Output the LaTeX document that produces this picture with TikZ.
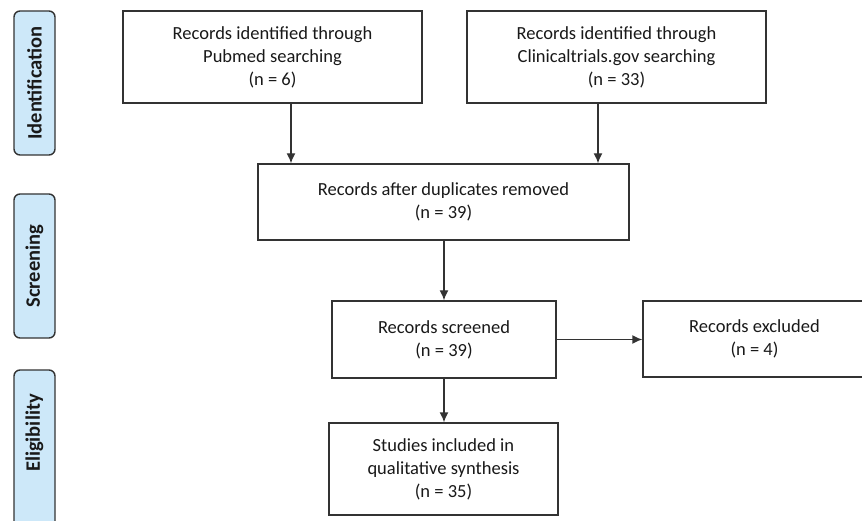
\documentclass[tikz,border=0pt]{standalone}
\usepackage{fontspec}
\setmainfont{Carlito}
\usetikzlibrary{arrows.meta}
\definecolor{stagefill}{HTML}{CDE8F9}
\definecolor{linecol}{HTML}{333333}
\tikzset{
  box/.style={draw=linecol, line width=1.4pt, fill=white, align=center, inner sep=0pt,
    font=\fontsize{18.5}{23}\selectfont, text=black!90},
  stage/.style={draw=linecol, line width=1.4pt, fill=stagefill, rounded corners=6pt,
    inner sep=0pt, minimum width=41pt},
  stagetext/.style={rotate=90, font=\fontsize{20.5}{24}\selectfont\bfseries, text=black!90},
  arr/.style={draw=linecol, line width=1.4pt, -{Latex[length=10pt,width=9pt]}}
}
\begin{document}
\begin{tikzpicture}[x=1pt,y=-1pt]
\useasboundingbox (0,0) rectangle (862,521);
% stage labels
\node[stage, minimum height=144pt] (s1) at (34.5,83) {};
\node[stagetext] (t1) at (s1.center) {Identification};
\node[stage, minimum height=144pt] (s2) at (34.5,266) {};
\node[stagetext] (t2) at (s2.center) {Screening};
\node[stage, minimum height=165pt] (s3) at (34.5,452.5) {};
\node[stagetext] (t3) at (34.5,433) {Eligibility};
% boxes
\node[box, minimum width=299pt, minimum height=92pt] (pub) at (272.5,57) {Records identified through\\Pubmed searching\\(n = 6)};
\node[box, minimum width=299pt, minimum height=92pt] (cli) at (616.5,57) {Records identified through\\Clinicaltrials.gov searching\\(n = 33)};
\node[box, minimum width=371pt, minimum height=76pt] (dup) at (443.5,202) {Records after duplicates removed\\(n = 39)};
\node[box, minimum width=224pt, minimum height=77pt] (scr) at (444,339.5) {Records screened\\(n = 39)};
\node[box, minimum width=223pt, minimum height=76pt] (exc) at (754.5,339) {Records excluded\\(n = 4)};
\node[box, minimum width=229pt, minimum height=92pt] (stu) at (443.5,469) {Studies included in\\qualitative synthesis\\(n = 35)};
% connectors
\coordinate (a1) at (291,0);
\coordinate (a2) at (598,0);
\draw[arr] (pub.south -| a1) -- (dup.north -| a1);
\draw[arr] (cli.south -| a2) -- (dup.north -| a2);
\draw[arr] (dup.south -| scr.north) -- (scr.north);
\draw[arr] (scr.east) -- (scr.east -| exc.west);
\draw[arr] (scr.south) -- (stu.north -| scr.south);
\end{tikzpicture}
\end{document}
